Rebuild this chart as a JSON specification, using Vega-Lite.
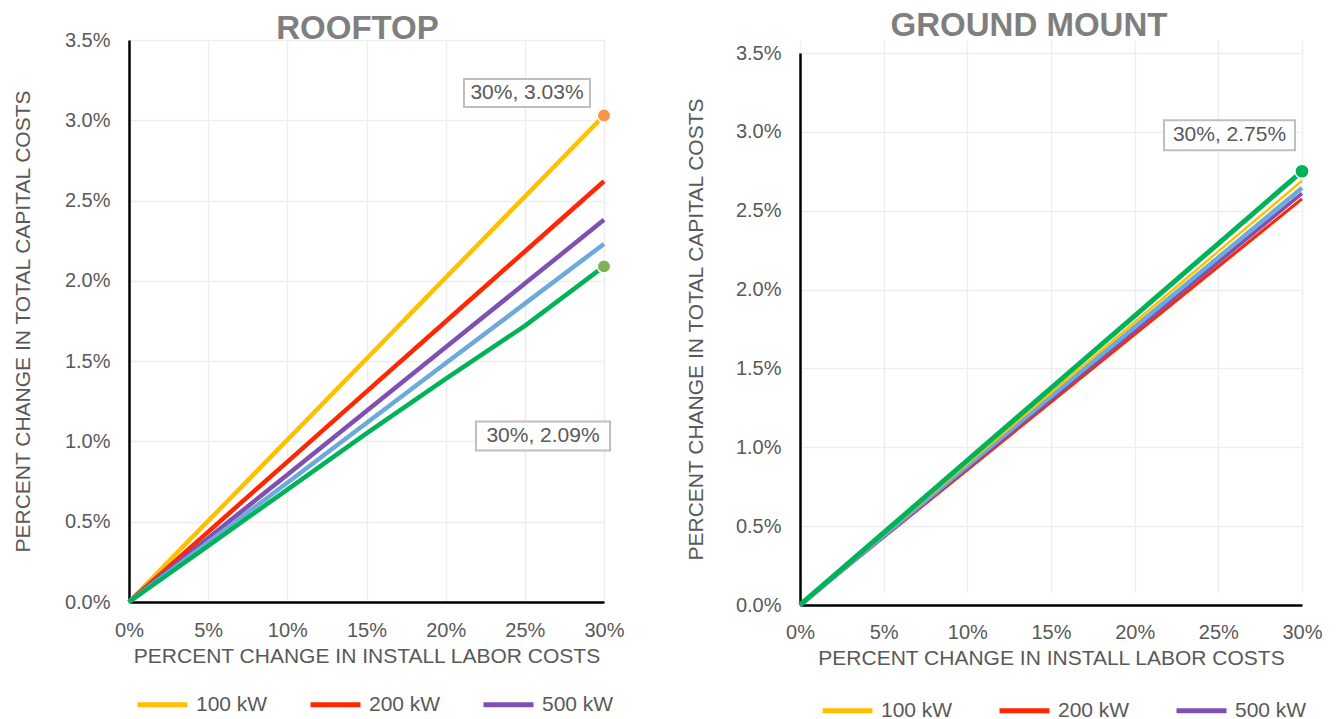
{
  "$schema": "https://vega.github.io/schema/vega-lite/v6.json",
  "padding": {"left": 12, "top": 10, "right": 5, "bottom": 0},
  "spacing": 60,
  "config": {
    "font": "Liberation Sans",
    "view": {"stroke": null},
    "axis": {
      "labelFont": "Liberation Sans",
      "labelFontSize": 20,
      "labelColor": "#595959",
      "titleFont": "Liberation Sans",
      "titleFontSize": 21,
      "titleFontWeight": "normal",
      "titleColor": "#595959",
      "gridColor": "#EDEDED",
      "gridWidth": 1.5,
      "domainColor": "#000000",
      "domainWidth": 2.5,
      "ticks": false,
      "labelFlush": false
    },
    "legend": {
      "labelFont": "Liberation Sans",
      "labelFontSize": 21,
      "labelColor": "#595959",
      "symbolType": "stroke",
      "symbolSize": 2500,
      "symbolStrokeWidth": 5,
      "columnPadding": 32,
      "labelOffset": 6
    },
    "title": {"font": "Liberation Sans", "fontWeight": "bold", "color": "#7F7F7F", "fontSize": 33, "anchor": "middle"}
  },
  "datasets": {
    "roof": [
      {"size": "100 kW", "labor": 0, "capital": 0},
      {"size": "100 kW", "labor": 0.05, "capital": 0.00505},
      {"size": "100 kW", "labor": 0.10, "capital": 0.0101},
      {"size": "100 kW", "labor": 0.15, "capital": 0.01515},
      {"size": "100 kW", "labor": 0.20, "capital": 0.0202},
      {"size": "100 kW", "labor": 0.25, "capital": 0.02525},
      {"size": "100 kW", "labor": 0.30, "capital": 0.0303},
      {"size": "200 kW", "labor": 0, "capital": 0},
      {"size": "200 kW", "labor": 0.05, "capital": 0.00437},
      {"size": "200 kW", "labor": 0.10, "capital": 0.00873},
      {"size": "200 kW", "labor": 0.15, "capital": 0.0131},
      {"size": "200 kW", "labor": 0.20, "capital": 0.01747},
      {"size": "200 kW", "labor": 0.25, "capital": 0.02183},
      {"size": "200 kW", "labor": 0.30, "capital": 0.0262},
      {"size": "500 kW", "labor": 0, "capital": 0},
      {"size": "500 kW", "labor": 0.05, "capital": 0.00397},
      {"size": "500 kW", "labor": 0.10, "capital": 0.00793},
      {"size": "500 kW", "labor": 0.15, "capital": 0.0119},
      {"size": "500 kW", "labor": 0.20, "capital": 0.01587},
      {"size": "500 kW", "labor": 0.25, "capital": 0.01983},
      {"size": "500 kW", "labor": 0.30, "capital": 0.0238},
      {"size": "1 MW", "labor": 0, "capital": 0},
      {"size": "1 MW", "labor": 0.05, "capital": 0.00372},
      {"size": "1 MW", "labor": 0.10, "capital": 0.00743},
      {"size": "1 MW", "labor": 0.15, "capital": 0.01115},
      {"size": "1 MW", "labor": 0.20, "capital": 0.01487},
      {"size": "1 MW", "labor": 0.25, "capital": 0.01858},
      {"size": "1 MW", "labor": 0.30, "capital": 0.0223},
      {"size": "2 MW", "labor": 0, "capital": 0},
      {"size": "2 MW", "labor": 0.05, "capital": 0.0035},
      {"size": "2 MW", "labor": 0.10, "capital": 0.0070},
      {"size": "2 MW", "labor": 0.15, "capital": 0.0105},
      {"size": "2 MW", "labor": 0.20, "capital": 0.0139},
      {"size": "2 MW", "labor": 0.25, "capital": 0.0172},
      {"size": "2 MW", "labor": 0.30, "capital": 0.0209}
    ],
    "ground": [
      {"size": "200 kW", "labor": 0, "capital": 0},
      {"size": "200 kW", "labor": 0.05, "capital": 0.00429},
      {"size": "200 kW", "labor": 0.10, "capital": 0.00858},
      {"size": "200 kW", "labor": 0.15, "capital": 0.012875},
      {"size": "200 kW", "labor": 0.20, "capital": 0.01717},
      {"size": "200 kW", "labor": 0.25, "capital": 0.02146},
      {"size": "200 kW", "labor": 0.30, "capital": 0.02575},
      {"size": "500 kW", "labor": 0, "capital": 0},
      {"size": "500 kW", "labor": 0.05, "capital": 0.00435},
      {"size": "500 kW", "labor": 0.10, "capital": 0.0087},
      {"size": "500 kW", "labor": 0.15, "capital": 0.01305},
      {"size": "500 kW", "labor": 0.20, "capital": 0.0174},
      {"size": "500 kW", "labor": 0.25, "capital": 0.02175},
      {"size": "500 kW", "labor": 0.30, "capital": 0.0261},
      {"size": "1 MW", "labor": 0, "capital": 0},
      {"size": "1 MW", "labor": 0.05, "capital": 0.00441},
      {"size": "1 MW", "labor": 0.10, "capital": 0.00882},
      {"size": "1 MW", "labor": 0.15, "capital": 0.013225},
      {"size": "1 MW", "labor": 0.20, "capital": 0.01763},
      {"size": "1 MW", "labor": 0.25, "capital": 0.02204},
      {"size": "1 MW", "labor": 0.30, "capital": 0.02645},
      {"size": "100 kW", "labor": 0, "capital": 0},
      {"size": "100 kW", "labor": 0.05, "capital": 0.00448},
      {"size": "100 kW", "labor": 0.10, "capital": 0.00897},
      {"size": "100 kW", "labor": 0.15, "capital": 0.01345},
      {"size": "100 kW", "labor": 0.20, "capital": 0.01793},
      {"size": "100 kW", "labor": 0.25, "capital": 0.02242},
      {"size": "100 kW", "labor": 0.30, "capital": 0.0269},
      {"size": "2 MW", "labor": 0, "capital": 0},
      {"size": "2 MW", "labor": 0.05, "capital": 0.00458},
      {"size": "2 MW", "labor": 0.10, "capital": 0.00917},
      {"size": "2 MW", "labor": 0.15, "capital": 0.01375},
      {"size": "2 MW", "labor": 0.20, "capital": 0.01833},
      {"size": "2 MW", "labor": 0.25, "capital": 0.02292},
      {"size": "2 MW", "labor": 0.30, "capital": 0.0275}
    ],
    "roofpts": [
      {"label": "30%, 3.03%", "labor": 0.30, "capital": 0.0303},
      {"label": "30%, 2.09%", "labor": 0.30, "capital": 0.0209}
    ],
    "groundpts": [
      {"label": "30%, 2.75%", "labor": 0.30, "capital": 0.0275}
    ]
  },
  "hconcat": [
    {
      "title": {"text": "ROOFTOP", "offset": -16, "dx": -9},
      "width": 475,
      "height": 562,
      "layer": [
        {
          "data": {"name": "roof"},
          "mark": {"type": "line", "strokeWidth": 4.5, "strokeCap": "butt"},
          "encoding": {
            "x": {"field": "labor", "type": "quantitative", "scale": {"domain": [0, 0.3], "nice": false},
              "axis": {"values": [0, 0.05, 0.1, 0.15, 0.2, 0.25, 0.3], "format": ".0%", "labelPadding": 18, "titlePadding": 5, "title": "PERCENT CHANGE IN INSTALL LABOR COSTS"}},
            "y": {"field": "capital", "type": "quantitative", "scale": {"domain": [0, 0.035], "nice": false},
              "axis": {"values": [0, 0.005, 0.01, 0.015, 0.02, 0.025, 0.03, 0.035], "format": ".1%", "labelPadding": 19, "titlePadding": 31, "title": "PERCENT CHANGE IN TOTAL CAPITAL COSTS"}},
            "color": {"field": "size", "type": "nominal",
              "scale": {"domain": ["100 kW", "200 kW", "500 kW", "1 MW", "2 MW"], "range": ["#FFC000", "#FF2600", "#7F4FB2", "#6DAADC", "#00B359"]},
              "legend": {"orient": "bottom", "direction": "horizontal", "title": null, "values": ["100 kW", "200 kW", "500 kW"], "offset": 5, "padding": 6}}
          }
        },
        {
          "data": {"name": "roofpts"},
          "transform": [{"filter": "datum.label === '30%, 3.03%'"}],
          "mark": {"type": "point", "shape": "M-1.40,-0.365H-0.14V-0.085H-1.40Z", "size": 40000, "filled": true, "fill": "#FFFFFF", "stroke": "#BFBFBF", "strokeWidth": 2, "opacity": 1},
          "encoding": {"x": {"field": "labor", "type": "quantitative"}, "y": {"field": "capital", "type": "quantitative"}}
        },
        {
          "data": {"name": "roofpts"},
          "transform": [{"filter": "datum.label === '30%, 2.09%'"}],
          "mark": {"type": "point", "shape": "M-1.28,1.55H0.06V1.84H-1.28Z", "size": 40000, "filled": true, "fill": "#FFFFFF", "stroke": "#BFBFBF", "strokeWidth": 2, "opacity": 1},
          "encoding": {"x": {"field": "labor", "type": "quantitative"}, "y": {"field": "capital", "type": "quantitative"}}
        },
        {
          "data": {"name": "roofpts"},
          "transform": [{"filter": "datum.label === '30%, 3.03%'"}],
          "mark": {"type": "text", "dx": -77, "dy": -22.5, "align": "center", "baseline": "middle", "fontSize": 21, "color": "#595959"},
          "encoding": {"x": {"field": "labor", "type": "quantitative"}, "y": {"field": "capital", "type": "quantitative"}, "text": {"field": "label"}}
        },
        {
          "data": {"name": "roofpts"},
          "transform": [{"filter": "datum.label === '30%, 2.09%'"}],
          "mark": {"type": "text", "dx": -61, "dy": 169.5, "align": "center", "baseline": "middle", "fontSize": 21, "color": "#595959"},
          "encoding": {"x": {"field": "labor", "type": "quantitative"}, "y": {"field": "capital", "type": "quantitative"}, "text": {"field": "label"}}
        },
        {
          "data": {"name": "roofpts"},
          "mark": {"type": "point", "shape": "circle", "size": 180, "filled": true, "opacity": 1, "stroke": "#FFFFFF", "strokeWidth": 1.5},
          "encoding": {"x": {"field": "labor", "type": "quantitative"}, "y": {"field": "capital", "type": "quantitative"},
            "fill": {"field": "label", "type": "nominal", "scale": {"domain": ["30%, 3.03%", "30%, 2.09%"], "range": ["#F79646", "#7DB356"]}, "legend": null}}
        }
      ]
    },
    {
      "title": {"text": "GROUND MOUNT", "offset": -3, "dx": -22},
      "width": 502,
      "height": 565,
      "layer": [
        {
          "data": {"name": "ground"},
          "mark": {"type": "line", "strokeCap": "butt"},
          "encoding": {
            "x": {"field": "labor", "type": "quantitative", "scale": {"domain": [0, 0.3], "nice": false},
              "axis": {"values": [0, 0.05, 0.1, 0.15, 0.2, 0.25, 0.3], "format": ".0%", "labelPadding": 17, "titlePadding": 5, "title": "PERCENT CHANGE IN INSTALL LABOR COSTS"}},
            "y": {"field": "capital", "type": "quantitative", "scale": {"domain": [0, 0.035], "nice": false, "range": [565, 13]},
              "axis": {"values": [0, 0.005, 0.01, 0.015, 0.02, 0.025, 0.03, 0.035], "format": ".1%", "labelPadding": 19, "titlePadding": 29, "title": "PERCENT CHANGE IN TOTAL CAPITAL COSTS"}},
            "color": {"field": "size", "type": "nominal",
              "scale": {"domain": ["100 kW", "200 kW", "500 kW", "1 MW", "2 MW"], "range": ["#FFC000", "#FF2600", "#7F4FB2", "#6DAADC", "#00B359"]},
              "legend": {"orient": "bottom", "direction": "horizontal", "title": null, "values": ["100 kW", "200 kW", "500 kW"], "offset": -5, "padding": 20, "columnPadding": 36}},
            "strokeWidth": {"field": "size", "type": "ordinal",
              "scale": {"domain": ["100 kW", "200 kW", "500 kW", "1 MW", "2 MW"], "range": [2.5, 5, 5, 5, 8]}, "legend": null}
          }
        },
        {
          "data": {"name": "groundpts"},
          "mark": {"type": "point", "shape": "M-1.38,-0.51H-0.07V-0.21H-1.38Z", "size": 40000, "filled": true, "fill": "#FFFFFF", "stroke": "#BFBFBF", "strokeWidth": 2, "opacity": 1},
          "encoding": {"x": {"field": "labor", "type": "quantitative"}, "y": {"field": "capital", "type": "quantitative"}}
        },
        {
          "data": {"name": "groundpts"},
          "mark": {"type": "text", "dx": -72.5, "dy": -36, "align": "center", "baseline": "middle", "fontSize": 21, "color": "#595959"},
          "encoding": {"x": {"field": "labor", "type": "quantitative"}, "y": {"field": "capital", "type": "quantitative"}, "text": {"field": "label"}}
        },
        {
          "data": {"name": "groundpts"},
          "mark": {"type": "point", "shape": "circle", "size": 200, "filled": true, "opacity": 1, "color": "#00B359", "stroke": "#FFFFFF", "strokeWidth": 1.5},
          "encoding": {"x": {"field": "labor", "type": "quantitative"}, "y": {"field": "capital", "type": "quantitative"}}
        }
      ]
    }
  ],
  "resolve": {"scale": {"color": "independent"}, "legend": {"color": "independent"}}
}
